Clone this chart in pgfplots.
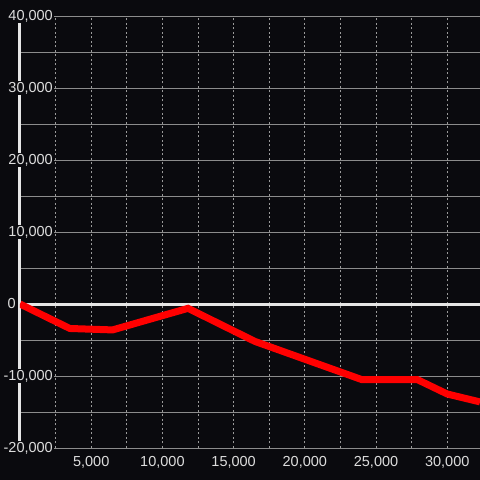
\documentclass[border=0pt]{standalone}
\usepackage{pgfplots}
\pgfplotsset{compat=1.18}
\usepackage{fontspec}
\setmainfont{Liberation Sans}
\definecolor{bg}{HTML}{0A0A0E}
\definecolor{lbl}{HTML}{DDDDDD}
\definecolor{gridc}{HTML}{8C8C8C}
\definecolor{dgrid}{HTML}{9A9A9A}
\definecolor{axw}{HTML}{E6E6E6}
\begin{document}
\begin{tikzpicture}
\fill[bg] (0,0) rectangle (480pt,480pt);
\begin{axis}[
  at={(20pt,32pt)}, anchor=south west,
  scale only axis, width=460pt, height=432pt,
  xmin=0, xmax=32300, ymin=-20000, ymax=40000,
  scaled ticks=false,
  /pgf/number format/assume math mode=true,
  /pgf/number format/1000 sep={,},
  tick label style={text=lbl, font=\fontsize{14.5}{16}\selectfont},
  major tick length=0pt, minor tick length=0pt,
  xtick={5000,10000,...,30000},
  minor xtick={2500,7500,...,32500},
  ytick={-20000,-10000,10000,20000,30000,40000},
  minor ytick={-15000,-5000,5000,15000,25000,35000},
  xmajorgrids, xminorgrids, ymajorgrids, yminorgrids,
  major grid style={gridc, line width=0.9pt},
  minor grid style={gridc, line width=0.9pt},
  x grid style={dgrid, line width=0.8pt, dash pattern=on 2pt off 2.5pt},
  axis x line=bottom,
  axis y line=left,
  x axis line style={draw=none, -},
  y axis line style={axw, line width=3pt, -},
  xticklabel style={anchor=north, yshift=-5pt},
  yticklabel style={anchor=east, xshift=34pt, fill=bg, inner sep=1pt},
  extra y ticks={0},
  extra y tick labels={0},
  extra y tick style={
    major grid style={axw, line width=3pt, solid},
    yticklabel style={xshift=-37pt}},
]
\addplot[red, line width=7pt] coordinates {
  (0,0) (3500,-3400) (6500,-3600) (11800,-600) (16500,-5200)
  (24000,-10500) (27900,-10500) (30000,-12500) (32300,-13600)
};
\end{axis}
\pgfresetboundingbox
\useasboundingbox (0,0) rectangle (480pt,480pt);
\end{tikzpicture}
\end{document}
